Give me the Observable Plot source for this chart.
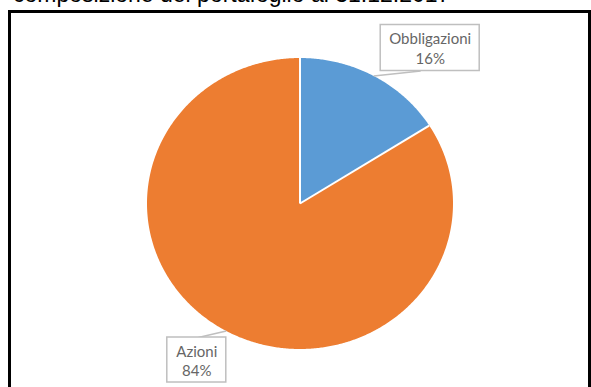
<!DOCTYPE html>
<html>
<head>
<meta charset="utf-8">
<script src="https://cdn.jsdelivr.net/npm/d3@7"></script>
<script src="https://cdn.jsdelivr.net/npm/@observablehq/plot@0.6"></script>
<style>
  html, body { margin: 0; padding: 0; background: #fff; overflow: hidden; }
  #wrap { position: relative; width: 591px; height: 387px; overflow: hidden; }
  #title { position: absolute; left: 13px; top: -17px; font-family: "Liberation Sans", Arial, sans-serif;
           font-size: 23px; line-height: 23px; color: #000; white-space: nowrap; }
  #frame { position: absolute; left: 8px; top: 10px; width: 577px; height: 420px;
           border: 3px solid #000; box-sizing: content-box; }
  #chart { position: absolute; left: 0; top: 0; }
</style>
</head>
<body>
<div id="wrap">
  <div id="title">composizione del portafoglio al 31.12.2017</div>
  <div id="frame"></div>
  <div id="chart"></div>
</div>
<script>
// ---- data ----
const categories = ["Obbligazioni", "Azioni"];
const values = [16, 84];
const pctLabels = ["16%", "84%"];
const colors = ["#5B9BD5", "#ED7D31"];

// ---- layout (pixels) ----
const xRange = [146.5, 452.5];
const yRange = [348.5, 57.5];
const RX = (xRange[1] - xRange[0]) / 2;
const RY = (yRange[0] - yRange[1]) / 2;
// callout box offsets from the slice's arc mid-point, box size, leader end relative to box centre
const callout = [
  {dx: 56.5, dy: -28, w: 99, h: 46, lx: -9.5, ly: 23},
  {dx: -29.5, dy: 29, w: 59, h: 45, lx: 1.5, ly: -22.5}
];

// ---- geometry derived from data ----
const total = d3.sum(values);
const pt = (a, r) => ({x: r * Math.sin(a), y: r * Math.cos(a)});
let acc = 0;
const slices = categories.map((c, i) => {
  const a0 = acc / total * 2 * Math.PI;
  acc += values[i];
  const a1 = acc / total * 2 * Math.PI;
  return {cat: c, a0, a1, mid: (a0 + a1) / 2, i};
});
const slicePts = [];
for (const s of slices) {
  slicePts.push({cat: s.cat, x: 0, y: 0});
  const n = Math.max(2, Math.ceil((s.a1 - s.a0) / (Math.PI / 360)));
  for (let k = 0; k <= n; k++) {
    const p = pt(s.a0 + (s.a1 - s.a0) * k / n, 1);
    slicePts.push({cat: s.cat, x: p.x, y: p.y});
  }
  slicePts.push({cat: s.cat, x: 0, y: 0});
}
const seps = slices.map(s => { const p = pt(s.a0, 1); return {x1: 0, y1: 0, x2: p.x, y2: p.y}; });

const boxes = slices.map(s => {
  const L = callout[s.i];
  const a = pt(s.mid, 1);
  const cx = a.x + L.dx / RX, cy = a.y - L.dy / RY;
  return {
    cat: s.cat, label: s.cat + "\n" + pctLabels[s.i],
    ax: a.x, ay: a.y, cx, cy,
    x1: cx - L.w / 2 / RX, x2: cx + L.w / 2 / RX,
    y1: cy - L.h / 2 / RY, y2: cy + L.h / 2 / RY,
    lx: cx + L.lx / RX, ly: cy - L.ly / RY
  };
});

const chart = Plot.plot({
  width: 591, height: 387, margin: 0,
  style: {background: "transparent", overflow: "visible"},
  x: {domain: [-1, 1], range: xRange, axis: null},
  y: {domain: [-1, 1], range: yRange, axis: null},
  color: {domain: categories, range: colors},
  marks: [
    Plot.line(slicePts, {x: "x", y: "y", z: "cat", fill: "cat", stroke: "none", curve: "linear"}),
    Plot.link(seps, {x1: "x1", y1: "y1", x2: "x2", y2: "y2", stroke: "#fff", strokeWidth: 2}),
    Plot.link(boxes, {x1: "ax", y1: "ay", x2: "lx", y2: "ly", stroke: "#bfbfbf", strokeWidth: 1.5}),
    Plot.rect(boxes, {x1: "x1", x2: "x2", y1: "y1", y2: "y2", fill: "#fff", stroke: "#bfbfbf", strokeWidth: 1.5}),
    Plot.text(boxes, {x: "cx", y: "cy", text: "label", fill: "#666666", fontSize: 15,
      fontFamily: "Lato, 'Open Sans', sans-serif", lineHeight: 1.3, textAnchor: "middle"})
  ]
});
document.getElementById("chart").appendChild(chart);
</script>
</body>
</html>
